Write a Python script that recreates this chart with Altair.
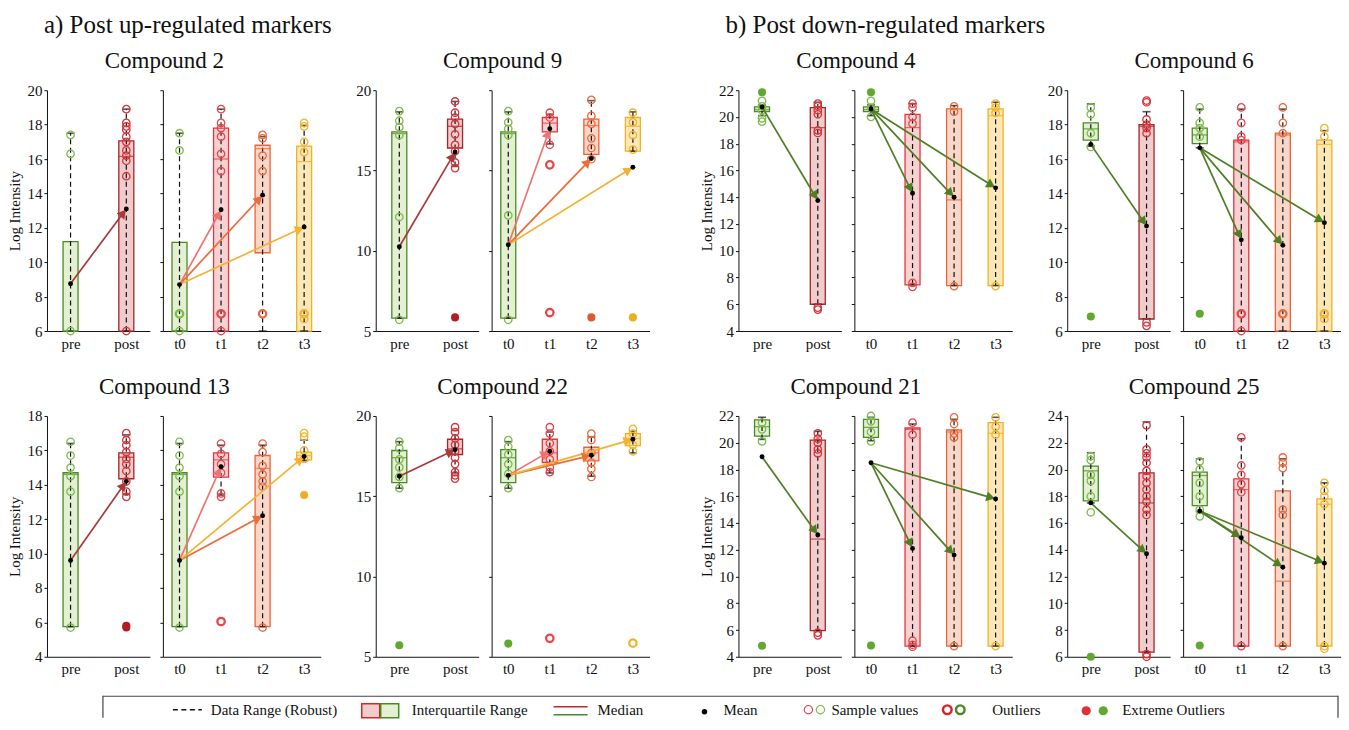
import math
import altair as alt
import pandas as pd

FONT = "Liberation Serif"

# ---------------------------------------------------------------- data
COMPOUNDS = ["Compound 2", "Compound 9", "Compound 13", "Compound 22",
             "Compound 4", "Compound 6", "Compound 21", "Compound 25"]
SECTIONS = ["a) Post up-regulated markers", "b) Post down-regulated markers"]
LEFT_LABELS = ["pre", "post"]
RIGHT_LABELS = ["t0", "t1", "t2", "t3"]
Y_MIN = [6, 5, 4, 5, 4, 6, 4, 6]
Y_MAX = [20, 20, 18, 20, 22, 20, 22, 24]
Y_STEP = [2, 5, 2, 5, 2, 2, 2, 2]

# every row: pre, post, t0, t1, t2, t3
Q1 = [
    [6.0, 6.0, 6.0, 6.0, 10.55, 6.0],
    [5.8, 16.4, 5.8, 17.4, 16.0, 16.2],
    [5.75, 14.35, 5.75, 14.45, 5.75, 15.45],
    [15.85, 17.6, 15.85, 17.1, 17.2, 18.15],
    [20.4, 6.0, 20.4, 7.45, 7.4, 7.4],
    [17.1, 6.7, 16.9, 6.0, 6.0, 6.0],
    [20.5, 5.95, 20.4, 4.8, 4.8, 4.8],
    [17.65, 6.35, 17.3, 6.8, 6.8, 6.8],
]
Q3 = [
    [11.2, 17.05, 11.15, 17.8, 16.8, 16.75],
    [17.4, 18.2, 17.4, 18.3, 18.2, 18.3],
    [14.7, 15.85, 14.7, 15.85, 15.7, 15.9],
    [17.85, 18.55, 17.9, 18.55, 18.05, 18.9],
    [20.75, 20.7, 20.75, 20.2, 20.6, 20.6],
    [18.1, 18.0, 17.8, 17.1, 17.5, 17.1],
    [21.7, 20.2, 21.75, 21.1, 20.95, 21.5],
    [20.25, 19.75, 19.8, 19.3, 18.4, 17.8],
]
MEDIAN = [
    [6.0, 16.15, 6.0, 16.0, 16.6, 15.85],
    [17.3, 17.75, 17.3, 17.95, 17.8, 17.75],
    [14.6, 15.6, 14.6, 15.45, 14.95, 15.7],
    [17.4, 17.95, 17.4, 17.7, 17.7, 18.6],
    [20.55, 19.2, 20.55, 19.2, 13.8, 20.1],
    [17.75, 17.9, 17.4, 17.0, 17.4, 16.85],
    [21.2, 12.8, 21.15, 21.0, 20.8, 20.7],
    [19.9, 17.5, 19.55, 18.5, 11.65, 17.4],
]
WHISK_LO = [
    [6.0, 6.0, 6.0, 6.0, 6.0, 6.0],
    [5.8, 15.25, 5.8, 16.65, 15.8, 16.2],
    [5.75, 13.45, 5.75, 13.4, 5.75, 15.4],
    [15.5, 16.45, 15.5, 16.45, 16.25, 17.7],
    [20.1, 6.0, 20.1, 7.45, 7.4, 7.4],
    [16.75, 6.7, 16.65, 6.0, 6.0, 6.0],
    [20.25, 5.95, 20.15, 4.8, 4.8, 4.8],
    [17.5, 6.35, 16.85, 6.8, 6.8, 6.8],
]
WHISK_HI = [
    [17.5, 18.9, 17.5, 18.9, 17.3, 17.95],
    [18.65, 19.3, 18.65, 18.5, 19.35, 18.65],
    [16.4, 16.9, 16.4, 16.3, 16.3, 16.6],
    [18.4, 19.1, 18.4, 19.0, 18.7, 19.05],
    [20.9, 21.1, 20.9, 21.0, 20.85, 21.1],
    [19.2, 18.75, 18.9, 18.9, 18.9, 17.65],
    [21.9, 20.85, 21.9, 21.4, 21.75, 21.9],
    [21.25, 23.55, 20.8, 22.3, 20.8, 19.0],
]
MEAN = [
    [8.75, 13.1, 8.7, 13.05, 13.9, 12.05],
    [10.25, 16.15, 10.37, 17.6, 15.75, 15.2],
    [9.6, 14.2, 9.6, 15.05, 12.2, 15.65],
    [16.25, 17.9, 16.3, 17.8, 17.55, 18.55],
    [20.75, 13.75, 20.6, 14.3, 14.0, 14.7],
    [16.85, 12.1, 16.65, 11.3, 10.98, 12.3],
    [18.95, 13.1, 18.5, 12.1, 11.6, 15.8],
    [17.5, 13.7, 16.9, 14.9, 12.7, 13.0],
]
SAMPLES = [
    [[17.4, 16.3, 6.0], [18.9, 18.1, 17.9, 17.7, 17.3, 17.0, 16.5, 16.2, 15.9, 15.0, 6.0],
     [17.5, 16.5, 6.0], [18.9, 18.1, 17.8, 17.3, 16.3, 15.3, 6.0], [17.4, 17.2, 16.2, 15.3],
     [18.1, 17.9, 17.0, 16.4, 6.7]],
    [[18.7, 18.1, 17.7, 17.2, 12.1, 5.7], [19.3, 18.6, 18.3, 17.9, 17.25, 16.6, 16.2, 15.5, 15.15],
     [18.7, 18.0, 17.6, 17.2, 12.2, 5.7], [18.6, 18.3, 16.6], [19.4, 18.4, 17.9, 17.0, 16.4, 15.7],
     [18.6, 18.0, 17.2, 16.3]],
    [[16.5, 15.7, 15.0, 14.5, 13.6, 5.7], [17.0, 16.6, 16.3, 15.9, 15.5, 15.2, 14.8, 14.2, 13.6, 13.3],
     [16.5, 15.7, 15.0, 14.5, 13.6, 5.7], [16.4, 15.8, 15.2, 14.7, 13.5, 13.3],
     [16.4, 15.9, 15.1, 14.6, 14.2, 13.9, 5.7], [17.0, 16.8, 16.0, 15.5]],
    [[18.4, 18.0, 17.3, 16.8, 16.2, 15.5], [19.3, 19.0, 18.6, 18.2, 17.8, 17.4, 17.0, 16.5, 16.3, 16.1],
     [18.5, 18.1, 17.6, 17.0, 16.4, 15.5], [19.3, 18.9, 18.3, 17.8, 17.3, 16.8, 16.5],
     [18.9, 18.5, 17.7, 17.1, 16.7, 16.2], [19.2, 18.9, 18.2, 17.8]],
    [[21.2, 20.8, 20.5, 19.9, 19.65], [21.0, 20.8, 20.5, 20.2, 19.0, 18.8, 5.75, 5.6],
     [21.2, 20.7, 20.0], [21.0, 20.7, 20.0, 19.5, 7.6, 7.3], [20.8, 20.4, 7.35],
     [21.0, 20.7, 20.3, 7.35]],
    [[19.0, 18.6, 17.5, 16.7], [19.4, 19.3, 18.3, 18.0, 17.8, 17.5, 6.5, 6.3],
     [19.0, 18.1, 17.8, 17.3], [19.0, 18.1, 17.3, 17.1, 6.0], [19.0, 18.1, 17.5],
     [17.8, 17.3, 6.7]],
    [[21.5, 21.0, 20.1], [20.7, 20.3, 20.0, 19.5, 19.2, 5.8, 5.6],
     [22.0, 21.6, 20.8, 20.1], [21.5, 20.6, 5.2, 4.9, 4.75], [21.9, 21.4, 20.7, 20.4, 4.8],
     [21.9, 21.2, 20.6, 4.8]],
    [[21.0, 20.7, 19.6, 19.15, 18.0, 16.8],
     [23.3, 21.5, 21.2, 20.9, 20.5, 19.9, 19.5, 19.0, 18.5, 18.0, 17.6, 17.0, 16.6, 6.2, 6.0],
     [20.6, 20.0, 19.0, 18.0, 17.0, 16.5], [22.4, 20.3, 19.6, 18.9, 18.3, 6.8],
     [20.9, 20.5, 20.1, 17.0, 16.6, 6.8], [19.0, 18.4, 18.0, 17.4, 6.8, 6.6]],
]
OUTLIERS = [
    [[], [], [7.0], [7.0], [7.0], [7.0]],
    [[], [], [], [15.35, 6.15], [], []],
    [[], [], [], [6.05], [], []],
    [[], [], [], [6.15], [], [5.85]],
    [[], [], [], [], [], []],
    [[], [], [], [7.0], [7.0], [7.0]],
    [[], [], [], [], [], []],
    [[], [], [], [], [], []],
]
EXTREMES = [
    [[], [], [], [], [], []],
    [[], [5.85], [], [], [5.85], [5.85]],
    [[], [5.8, 5.7], [], [], [], [13.4]],
    [[5.72], [], [5.82], [], [], []],
    [[21.85], [], [21.85], [], [], []],
    [[6.85], [], [7.0], [], [], []],
    [[4.83], [], [4.85], [], [], []],
    [[6.0], [], [6.85], [], [], []],
]
LEGEND_LABELS = ["Data Range (Robust)", "Interquartile Range", "Median", "Mean",
                 "Sample values", "Outliers", "Extreme Outliers"]

# ---------------------------------------------------------------- styles
BOX_STROKE = ["#4a8a26", "#a3262a", "#4a8a26", "#e5353a", "#ea6439", "#f0b124"]
BOX_FILL = ["#e3f0d2", "#f1cccd", "#e3f0d2", "#f8d2d3", "#f9d7c8", "#fbe7b8"]
PT_COLOR = ["#7dbb4b", "#d7343a", "#7dbb4b", "#e8454a", "#eb6a3d", "#f2b42a"]
EXT_COLOR = ["#62a72e", "#b21c22", "#62a72e", "#e03034", "#e35a2a", "#f0ae1e"]
ARROW_UP = ["#a83a3a", "#f07272", "#ec6c3c", "#f3b232"]
ARROW_DOWN = "#4e7f24"

WL, WR, H = 103, 158, 241
PAD_L, PAD_R = 1 / 3, 0.28


def panel(ci, side, ytitle):
    idx = [0, 1] if side == "L" else [2, 3, 4, 5]
    labels = LEFT_LABELS if side == "L" else RIGHT_LABELS
    n = len(idx)
    width = WL if side == "L" else WR
    pad = PAD_L if side == "L" else PAD_R
    xdom = [-pad, n - 1 + pad]
    ydom = [Y_MIN[ci], Y_MAX[ci]]
    sx = width / (xdom[1] - xdom[0])
    sy = H / (ydom[1] - ydom[0])

    xs = alt.Scale(domain=xdom, nice=False, zero=False)
    ys = alt.Scale(domain=ydom, nice=False, zero=False)
    expr = "[" + ",".join("'" + l + "'" for l in labels) + "][datum.value]"
    xax = alt.Axis(values=list(range(n)), labelExpr=expr, ticks=False, grid=False,
                   domainColor="#111", labelFontSize=15, labelPadding=5,
                   labelColor="#111", labelFont=FONT, labelAngle=0)
    yvals = list(range(Y_MIN[ci], Y_MAX[ci] + 1, Y_STEP[ci]))
    if side == "L":
        yax = alt.Axis(values=yvals, grid=False, tickSize=3, tickColor="#111",
                       domainColor="#111", labelFontSize=15, labelPadding=2,
                       labelColor="#111", labelFont=FONT, titleFont=FONT,
                       titleFontSize=15, titleFontWeight="normal", titleColor="#111",
                       titlePadding=4)
    else:
        yax = alt.Axis(values=yvals, grid=False, tickSize=3, tickColor="#111",
                       domainColor="#111", labels=False)

    def X(f):
        return alt.X(f + ":Q", scale=xs, axis=xax, title=None)

    def Y(f):
        return alt.Y(f + ":Q", scale=ys, axis=yax, title=ytitle)

    stats = pd.DataFrame({
        "pos": list(range(n)),
        "q1": [Q1[ci][g] for g in idx],
        "q3": [Q3[ci][g] for g in idx],
        "med": [MEDIAN[ci][g] for g in idx],
        "lo": [WHISK_LO[ci][g] for g in idx],
        "hi": [WHISK_HI[ci][g] for g in idx],
        "mean": [MEAN[ci][g] for g in idx],
        "stroke": [BOX_STROKE[g] for g in idx],
        "fill": [BOX_FILL[g] for g in idx],
    })
    caps = pd.DataFrame({
        "pos": list(range(n)) * 2,
        "v": [WHISK_LO[ci][g] for g in idx] + [WHISK_HI[ci][g] for g in idx],
    })

    def pts(src, colors):
        rows = []
        for j, g in enumerate(idx):
            for v in src[ci][g]:
                rows.append({"pos": j, "val": v, "col": colors[g]})
        return pd.DataFrame(rows, columns=["pos", "val", "col"])

    samp = pts(SAMPLES, PT_COLOR)
    outl = pts(OUTLIERS, PT_COLOR)
    extr = pts(EXTREMES, EXT_COLOR)

    # arrows from first group's mean to each later group's mean
    arr, heads = [], []
    up = ci < 4
    m0 = MEAN[ci][idx[0]]
    for j in range(1, n):
        m1 = MEAN[ci][idx[j]]
        dxp = j * sx
        dyp = (m1 - m0) * sy
        L = math.hypot(dxp, dyp)
        f = (L - 7.0) / L
        xh = j * f
        yh = m0 + (m1 - m0) * f
        ang = math.degrees(math.atan2(dxp, dyp)) % 360
        if up:
            col = ARROW_UP[0] if side == "L" else ARROW_UP[j]
        else:
            col = ARROW_DOWN
        arr.append({"x0": 0, "y0": m0, "x1": xh, "y1": yh, "col": col})
        heads.append({"xh": xh, "yh": yh, "ang": ang, "col": col})
    arr = pd.DataFrame(arr)
    heads = pd.DataFrame(heads)

    layers = [
        alt.Chart(stats).mark_bar(size=15, strokeWidth=1.3).encode(
            x=X("pos"), y=Y("q1"), y2=alt.Y2("q3"),
            fill=alt.Fill("fill:N", scale=None), stroke=alt.Stroke("stroke:N", scale=None)),
        alt.Chart(stats).mark_rule(strokeDash=[5, 3.5], strokeWidth=1.2, color="#111").encode(
            x=X("pos"), y=Y("lo"), y2=alt.Y2("hi")),
        alt.Chart(caps).mark_tick(orient="horizontal", size=8, thickness=1.6, color="#111").encode(
            x=X("pos"), y=Y("v")),
        alt.Chart(stats).mark_tick(orient="horizontal", size=15, thickness=1.3).encode(
            x=X("pos"), y=Y("med"), color=alt.Color("stroke:N", scale=None)),
        alt.Chart(samp).mark_point(shape="circle", filled=False, size=55, strokeWidth=1.3,
                                   opacity=1).encode(
            x=X("pos"), y=Y("val"), color=alt.Color("col:N", scale=None)),
    ]
    if len(outl):
        layers.append(alt.Chart(outl).mark_point(shape="circle", filled=False, size=55,
                                                 strokeWidth=2.3, opacity=1).encode(
            x=X("pos"), y=Y("val"), color=alt.Color("col:N", scale=None)))
    if len(extr):
        layers.append(alt.Chart(extr).mark_circle(size=65, opacity=1).encode(
            x=X("pos"), y=Y("val"), color=alt.Color("col:N", scale=None)))
    layers += [
        alt.Chart(arr).mark_rule(strokeWidth=1.7).encode(
            x=X("x0"), x2=alt.X2("x1"), y=Y("y0"), y2=alt.Y2("y1"),
            color=alt.Color("col:N", scale=None)),
        alt.Chart(heads).mark_point(shape="triangle", filled=True, size=100, opacity=1).encode(
            x=X("xh"), y=Y("yh"), angle=alt.Angle("ang:Q", scale=None),
            color=alt.Color("col:N", scale=None)),
        alt.Chart(stats).mark_circle(size=24, color="black", opacity=1).encode(
            x=X("pos"), y=Y("mean")),
    ]
    return alt.layer(*layers).properties(width=width, height=H)


def block(ci, with_title):
    yt = "Log Intensity" if with_title else None
    return alt.hconcat(
        panel(ci, "L", yt), panel(ci, "R", None), spacing=9,
        title=alt.TitleParams(COMPOUNDS[ci], fontSize=23, font=FONT, fontWeight="normal",
                              anchor="middle", offset=10, color="#111"))


def section(k, dx):
    b = 4 * k
    row1 = alt.hconcat(block(b + 0, True), block(b + 1, False), spacing=35)
    row2 = alt.hconcat(block(b + 2, True), block(b + 3, False), spacing=35)
    return alt.vconcat(row1, row2, spacing=25,
                       title=alt.TitleParams(SECTIONS[k], fontSize=25, font=FONT,
                                             fontWeight="normal", anchor="start", dx=dx,
                                             offset=12, color="#111"))


top = alt.hconcat(section(0, 36), section(1, 26), spacing=50)

# ---------------------------------------------------------------- legend key
# the legend's origin lines up with the first plot's origin (page x ~47)
LEG_OFF = 39
LW, LH = 1333 - LEG_OFF, 22
lx = lambda f: alt.X(f + ":Q", scale=alt.Scale(domain=[0, LW], nice=False, zero=False), axis=None)
ly = lambda f: alt.Y(f + ":Q", scale=alt.Scale(domain=[0, LH], nice=False, zero=False,
                                                reverse=True), axis=None)


def px(v):
    return [a - LEG_OFF for a in v]


frame = pd.DataFrame({"x": px([95, 95, 1331]), "x2": px([1331, 95, 1331]),
                      "y": [0.5, 0, 0], "y2": [0.5, LH, LH]})
dash = pd.DataFrame({"x": px([165]), "x2": px([194]), "y": [14], "y2": [14]})
iqr = pd.DataFrame({"x": px([354, 373]), "x2": px([372, 391]), "y": [8, 8], "y2": [22, 22],
                    "fill": [BOX_FILL[1], BOX_FILL[0]], "stroke": ["#d4262b", BOX_STROKE[0]]})
medl = pd.DataFrame({"x": px([546, 546]), "x2": px([580, 580]), "y": [11, 19], "y2": [11, 19],
                     "col": ["#c0282c", BOX_STROKE[0]]})
meand = pd.DataFrame({"x": px([697]), "y": [16]})
sampd = pd.DataFrame({"x": px([801, 813]), "y": [14, 14], "col": ["#e8454a", PT_COLOR[0]]})
outd = pd.DataFrame({"x": px([940, 953]), "y": [14, 14], "col": ["#d4262b", BOX_STROKE[0]]})
extd = pd.DataFrame({"x": px([1079, 1096]), "y": [15, 15], "col": ["#e03034", EXT_COLOR[0]]})
texts = pd.DataFrame({"x": px([203, 404, 590, 716, 824, 985, 1115]), "y": [14] * 7,
                      "t": LEGEND_LABELS})

legend = alt.layer(
    alt.Chart(frame).mark_rule(color="#444", strokeWidth=1.2).encode(
        x=lx("x"), x2=alt.X2("x2"), y=ly("y"), y2=alt.Y2("y2")),
    alt.Chart(dash).mark_rule(color="#111", strokeWidth=1.3, strokeDash=[5, 3.5]).encode(
        x=lx("x"), x2=alt.X2("x2"), y=ly("y"), y2=alt.Y2("y2")),
    alt.Chart(iqr).mark_rect(strokeWidth=1.5).encode(
        x=lx("x"), x2=alt.X2("x2"), y=ly("y"), y2=alt.Y2("y2"),
        fill=alt.Fill("fill:N", scale=None), stroke=alt.Stroke("stroke:N", scale=None)),
    alt.Chart(medl).mark_rule(strokeWidth=1.4).encode(
        x=lx("x"), x2=alt.X2("x2"), y=ly("y"), y2=alt.Y2("y2"),
        color=alt.Color("col:N", scale=None)),
    alt.Chart(meand).mark_circle(size=30, color="black", opacity=1).encode(x=lx("x"), y=ly("y")),
    alt.Chart(sampd).mark_point(shape="circle", filled=False, size=70, strokeWidth=1.1,
                                opacity=1).encode(
        x=lx("x"), y=ly("y"), color=alt.Color("col:N", scale=None)),
    alt.Chart(outd).mark_point(shape="circle", filled=False, size=75, strokeWidth=2.4,
                               opacity=1).encode(
        x=lx("x"), y=ly("y"), color=alt.Color("col:N", scale=None)),
    alt.Chart(extd).mark_circle(size=85, opacity=1).encode(
        x=lx("x"), y=ly("y"), color=alt.Color("col:N", scale=None)),
    alt.Chart(texts).mark_text(align="left", baseline="middle", fontSize=15, font=FONT,
                               color="#111").encode(x=lx("x"), y=ly("y"), text="t:N"),
).properties(width=LW, height=LH)

chart = alt.vconcat(top, legend, spacing=18).properties(
    padding={"top": 5, "left": 0, "right": 0, "bottom": 0}, background="white"
).configure(font=FONT).configure_view(
    stroke="transparent", strokeWidth=0
).configure_axis(labelFont=FONT, titleFont=FONT).configure_title(font=FONT)

chart.save("out.html", embed_options={"renderer": "svg", "actions": False})
